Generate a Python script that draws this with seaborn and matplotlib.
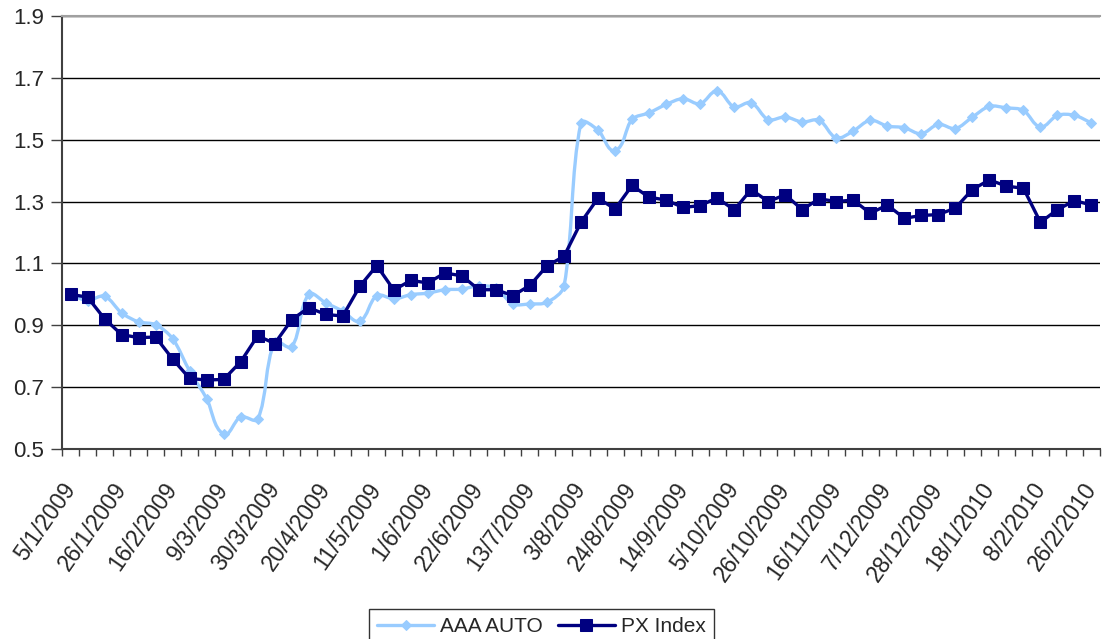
import matplotlib
matplotlib.use("Agg")
import matplotlib.pyplot as plt
import seaborn as sns
import pandas as pd
import numpy as np
from matplotlib.ticker import FixedLocator, FormatStrFormatter
from matplotlib.path import Path
from matplotlib.patches import PathPatch

aaa_auto = [1.00, 0.98, 0.994, 0.94, 0.911, 0.902, 0.857, 0.752, 0.663, 0.548,
            0.604, 0.596, 0.846, 0.83, 1.00, 0.972, 0.946, 0.913, 0.996, 0.985,
            0.999, 1.004, 1.015, 1.017, 1.028, 1.02, 0.969, 0.969, 0.974, 1.026,
            1.555, 1.531, 1.465, 1.566, 1.587, 1.614, 1.633, 1.616, 1.658, 1.606,
            1.62, 1.565, 1.574, 1.557, 1.563, 1.506, 1.528, 1.563, 1.544, 1.539,
            1.519, 1.55, 1.536, 1.573, 1.608, 1.603, 1.595, 1.541, 1.579, 1.579,
            1.554]
px_index = [1.00, 0.991, 0.921, 0.870, 0.860, 0.862, 0.791, 0.728, 0.723, 0.725,
            0.782, 0.866, 0.841, 0.918, 0.957, 0.935, 0.930, 1.026, 1.093, 1.014,
            1.045, 1.037, 1.069, 1.060, 1.015, 1.015, 0.996, 1.029, 1.092, 1.123,
            1.233, 1.311, 1.276, 1.352, 1.314, 1.305, 1.281, 1.287, 1.312, 1.273,
            1.339, 1.300, 1.322, 1.274, 1.309, 1.300, 1.305, 1.262, 1.289, 1.246,
            1.255, 1.258, 1.279, 1.339, 1.370, 1.350, 1.343, 1.233, 1.274, 1.303,
            1.289]
tick_labels = ["5/1/2009", "26/1/2009", "16/2/2009", "9/3/2009", "30/3/2009",
               "20/4/2009", "11/5/2009", "1/6/2009", "22/6/2009", "13/7/2009",
               "3/8/2009", "24/8/2009", "14/9/2009", "5/10/2009", "26/10/2009",
               "16/11/2009", "7/12/2009", "28/12/2009", "18/1/2010", "8/2/2010",
               "26/2/2010"]
y_ticks = [0.5, 0.7, 0.9, 1.1, 1.3, 1.5, 1.7, 1.9]
series_names = ["AAA AUTO", "PX Index"]

sns.set_style("white")
plt.rcParams['font.family'] = ['Liberation Sans', 'DejaVu Sans']

LIGHT = "#99CCFF"
DARK = "#000080"

n = len(aaa_auto)
df = pd.DataFrame({"idx": np.arange(n), series_names[0]: aaa_auto, series_names[1]: px_index})

fig = plt.figure(figsize=(11.03, 6.39), dpi=100)
W, H = 1103, 639
ax = fig.add_axes([62 / W, 1 - 449 / H, 1038 / W, 433 / H])

sns.lineplot(data=df, x="idx", y=series_names[0], ax=ax, color=LIGHT, lw=2.4,
             marker="D", markersize=5.5, markeredgecolor=LIGHT, label=series_names[0], zorder=3)
sns.lineplot(data=df, x="idx", y=series_names[1], ax=ax, color=DARK, lw=2.4,
             marker="s", markersize=8, markeredgecolor=DARK, label=series_names[1], zorder=4)

ax.set_xlim(-0.5, n - 0.5)
ax.set_ylim(y_ticks[0], y_ticks[-1])
ax.yaxis.set_major_locator(FixedLocator(y_ticks))
ax.yaxis.set_major_formatter(FormatStrFormatter('%.1f'))
ax.grid(axis='y', color='black', lw=1.0)
ax.set_axisbelow(True)

label_pos = list(range(0, n, 3))
ax.xaxis.set_minor_locator(FixedLocator(np.arange(-0.5, n, 1.0)))
ax.tick_params(axis='x', which='major', length=0, pad=26, labelsize=16.5)
ax.tick_params(axis='x', which='minor', length=5, width=1, color='#404040', direction='out', bottom=True)
ax.tick_params(axis='y', which='major', length=8, width=1, color='#404040', direction='out', left=True,
               labelsize=16, pad=5)
ax.set_xticks(label_pos)
ax.set_xticklabels(tick_labels)
for t in ax.get_xticklabels():
    t.set_rotation(55)
    t.set_ha('right')
    t.set_va('center')
    t.set_rotation_mode('anchor')
    t.set_fontsize(16.5)
ax.set_xlabel("")
ax.set_ylabel("")

for s in ['left', 'bottom']:
    ax.spines[s].set_color('#404040')
    ax.spines[s].set_linewidth(1.5)
ax.spines['top'].set_color('#A0A0A0')
ax.spines['top'].set_linewidth(1.5)
ax.spines['right'].set_visible(False)

leg = ax.legend(loc='upper center', bbox_to_anchor=(541.5 / W, 1 - 609 / H),
                bbox_transform=fig.transFigure, ncol=2, frameon=True, fancybox=False,
                edgecolor='black', fontsize=15, handlelength=2.7, columnspacing=0.75,
                handletextpad=0.3, borderpad=0.4, borderaxespad=0)
leg.get_frame().set_linewidth(1.0)

# Excel-style smoothed line for AAA AUTO: markers stay from seaborn,
# line replaced by a Bezier path computed in display space
light_line = ax.lines[0]
pts = ax.transData.transform(np.column_stack([light_line.get_xdata(), light_line.get_ydata()]))
light_line.set_linestyle('None')
m = len(pts)
tang = np.zeros_like(pts)
for i in range(m):
    a = pts[max(i - 1, 0)]
    b = pts[min(i + 1, m - 1)]
    d = b - a
    tang[i] = d / np.hypot(*d)
k = 0.3
verts = [pts[0]]
codes = [Path.MOVETO]
for i in range(m - 1):
    seg = np.hypot(*(pts[i + 1] - pts[i]))
    verts += [pts[i] + tang[i] * seg * k, pts[i + 1] - tang[i + 1] * seg * k, pts[i + 1]]
    codes += [Path.CURVE4] * 3
verts_data = ax.transData.inverted().transform(np.array(verts))
ax.add_patch(PathPatch(Path(verts_data, codes), facecolor='none', edgecolor=LIGHT, lw=2.4,
                       zorder=2.9, joinstyle='round', capstyle='round'))

fig.savefig("out.png", dpi=100)
